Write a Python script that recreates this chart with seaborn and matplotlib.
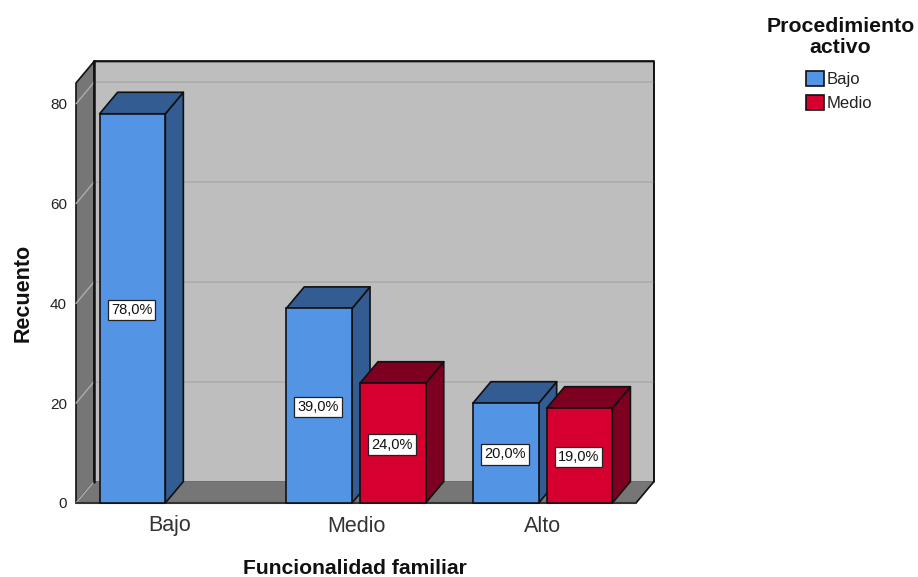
import matplotlib
matplotlib.use("Agg")
import matplotlib.pyplot as plt
from matplotlib.patches import Polygon
import pandas as pd
import seaborn as sns

# Survey counts by family functioning level and active coping level
functioning = ["Bajo", "Medio", "Alto", "Medio", "Alto"]
coping = ["Bajo", "Bajo", "Bajo", "Medio", "Medio"]
counts = [78, 39, 20, 24, 19]
percent_labels = ["78,0%", "39,0%", "20,0%", "24,0%", "19,0%"]
functioning_order = ["Bajo", "Medio", "Alto"]
coping_order = ["Bajo", "Medio"]
y_ticks = [0, 20, 40, 60, 80]

front_colors = {"Bajo": "#5394E5", "Medio": "#D5002F"}
shade_colors = {"Bajo": "#335C92", "Medio": "#7D0020"}
WALL = "#BEBEBE"
FLOOR = "#767676"
GRID = "#ADADAD"
EDGE = "#111111"

W, H = 918, 577
LEFT, RIGHT, BOTTOM, TOP = 76, 636, 503, 83
PX_PER_UNIT = 4.99
DEPTH_X_PX, DEPTH_Y_PX = 18, 21.5

plt.rcParams["font.family"] = ["Liberation Sans", "DejaVu Sans"]
sns.set_theme(style="white", rc={"font.family": ["Liberation Sans", "DejaVu Sans"]})

fig = plt.figure(figsize=(W / 100, H / 100), dpi=100)
ax = fig.add_axes([LEFT / W, 1 - BOTTOM / H, (RIGHT - LEFT) / W, (BOTTOM - TOP) / H])

df = pd.DataFrame({"funcionalidad": functioning, "procedimiento": coping, "recuento": counts})
sns.barplot(
    data=df, x="funcionalidad", y="recuento", hue="procedimiento",
    order=functioning_order, hue_order=coping_order, palette=front_colors,
    saturation=1, width=0.79, gap=0.108, edgecolor=EDGE, linewidth=1.2,
    errorbar=None, ax=ax, zorder=3,
)
ax.set_xlim(-0.5, 2.5)
ax.set_ylim(0, (BOTTOM - TOP) / PX_PER_UNIT)

# Depth of the pseudo-3D extrusion, expressed in data units
dx = DEPTH_X_PX / ((RIGHT - LEFT) / 3)
dy = DEPTH_Y_PX / PX_PER_UNIT
x0, x1 = ax.get_xlim()
top = ax.get_ylim()[1]


def face(points, color, z, lw=1.2, edge=EDGE):
    ax.add_patch(Polygon(points, closed=True, facecolor=color, edgecolor=edge,
                         linewidth=lw, zorder=z, clip_on=False, joinstyle="round"))


# Box behind the bars: back wall, left wall and floor
face([(x0 + dx, dy), (x1 + dx, dy), (x1 + dx, top + dy), (x0 + dx, top + dy)], WALL, 1)
face([(x0, 0), (x0 + dx, dy), (x0 + dx, top + dy), (x0, top)], FLOOR, 1.1)
face([(x0, 0), (x1, 0), (x1 + dx, dy), (x0 + dx, dy)], FLOOR, 1.1, lw=0.6, edge=FLOOR)

# Gridlines wrap from the left wall onto the back wall
for t in y_ticks:
    ax.plot([x0, x0 + dx], [t, t + dy], color=GRID, lw=1, zorder=1.2, clip_on=False)
    if t > 0:
        ax.plot([x0 + dx, x1 + dx], [t + dy, t + dy], color=GRID, lw=1.3, zorder=1.2, clip_on=False)

ax.plot([x0 + dx, x1 + dx, x1 + dx, x1], [top + dy, top + dy, dy, 0], color=EDGE, lw=1.2, zorder=1.5, clip_on=False)
ax.plot([x0 + dx, x0 + dx], [dy, top + dy], color=EDGE, lw=1.8, zorder=1.5, clip_on=False)
ax.plot([x0, x1], [0, 0], color="#333333", lw=1.5, zorder=1.5, clip_on=False)

# Side and top faces, one layer per series so later bars overlap earlier ones
layer = 3.0
for container, level in zip(ax.containers, coping_order):
    for bar in container:
        h = bar.get_height()
        if not h or h != h:
            continue
        a, b = bar.get_x(), bar.get_x() + bar.get_width()
        shade = shade_colors[level]
        face([(b, 0), (b + dx, dy), (b + dx, h + dy), (b, h)], shade, layer)
        face([(a, h), (b, h), (b + dx, h + dy), (a + dx, h + dy)], shade, layer)
        bar.set_zorder(layer + 0.1)
        bar.set_clip_on(False)
        lab = percent_labels[[i for i, (f, c) in enumerate(zip(functioning, coping))
                              if c == level and f == functioning_order[round(a + bar.get_width() / 2)]][0]]
        ax.annotate(lab, (a + bar.get_width() / 2, h / 2), xytext=(-0.7, -1), textcoords="offset points",
                    ha="center", va="center", fontsize=10.5, color="#111111", zorder=layer + 0.2,
                    bbox=dict(boxstyle="square,pad=0.22", facecolor="white", edgecolor="#222222", linewidth=0.9))
    layer += 1

sns.despine(ax=ax, left=True, bottom=True, top=True, right=True)
ax.patch.set_visible(False)
ax.set_yticks(y_ticks)
ax.tick_params(axis="y", length=0, pad=6.5, labelsize=11, labelcolor="#222222")
ax.tick_params(axis="x", length=0, pad=9, labelsize=15.5, labelcolor="#333333")
ax.set_xlabel("Funcionalidad familiar", fontsize=15.2, fontweight="bold", color="#111111")
ax.set_ylabel("Recuento", fontsize=15.5, fontweight="bold", color="#111111")
ax.xaxis.set_label_coords((355 - LEFT) / (RIGHT - LEFT), -(568 - BOTTOM) / (BOTTOM - TOP))
ax.xaxis.label.set_verticalalignment("center")
ax.yaxis.set_label_coords((23 - LEFT) / (RIGHT - LEFT), (BOTTOM - 292.5) / (BOTTOM - TOP))
ax.yaxis.label.set_verticalalignment("center")

handles, labels = ax.get_legend_handles_labels()
leg = ax.legend(
    handles, labels, loc="upper left",
    bbox_to_anchor=(806 / W, 1 - 71 / H), bbox_transform=fig.transFigure,
    frameon=False, fontsize=12, borderpad=0, borderaxespad=0,
    handlelength=1.05, handleheight=0.98, handletextpad=0.2, labelspacing=0.5,
    labelcolor="#222222",
)
fig.text(840.5 / W, 1 - 37 / H, "Procedimiento\nactivo", ha="center", va="center",
         fontsize=15.3, fontweight="bold", color="#111111", linespacing=1.15)

fig.savefig("out.png", dpi=100)
